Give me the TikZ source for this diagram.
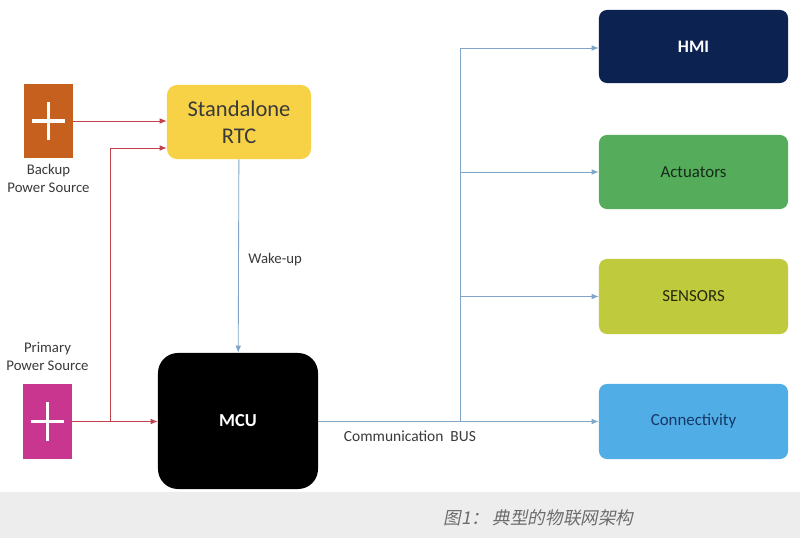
\documentclass[tikz,border=0pt]{standalone}
\usepackage{fontspec}
\setmainfont{Carlito}
\newfontfamily\cjkfont[FakeSlant=0.2]{Noto Sans CJK SC}
\usepackage{tikz}
\usetikzlibrary{arrows.meta,positioning}
\definecolor{backupclr}{HTML}{C5601E}
\definecolor{primaryclr}{HTML}{C8368F}
\definecolor{rtcclr}{HTML}{F8D246}
\definecolor{hmiclr}{HTML}{0C2352}
\definecolor{actclr}{HTML}{55AD5C}
\definecolor{senclr}{HTML}{BFCB3C}
\definecolor{conclr}{HTML}{50ADE6}
\definecolor{powerwire}{HTML}{C3414B}
\definecolor{buswire}{HTML}{7FA5C9}
\definecolor{labelclr}{HTML}{3A3A3A}

\begin{document}
\begin{tikzpicture}[x=0.025cm, y=-0.025cm,
	source/.style={rectangle, inner sep=0, minimum width=1.2cm, minimum height=1.85cm,
		path picture={\draw[white, line width=2.2pt]
			([xshift=-0.42cm]path picture bounding box.center) -- ([xshift=0.42cm]path picture bounding box.center)
			([yshift=-0.48cm]path picture bounding box.center) -- ([yshift=0.48cm]path picture bounding box.center);}},
	block/.style={rectangle, rounded corners=0.2cm, inner sep=0, minimum width=4.725cm, minimum height=1.85cm, font=\fontsize{12}{14}\selectfont},
	note/.style={align=center, text=labelclr, font=\fontsize{10.5}{12.8}\selectfont},
	power/.style={draw=powerwire, line width=0.6pt, -{Latex[length=5pt, width=4pt]}},
	bus/.style={draw=buswire, line width=0.6pt, -{Latex[length=5pt, width=4pt]}}]
	\useasboundingbox (0, 0) rectangle (800, 538);
	\fill[white] (0, 0) rectangle (800, 492);
	\fill[gray!14] (0, 492) rectangle (800, 538);
	% Paths, nodes and wires:
	\node[source, fill=backupclr] (backup) at (48.5, 121) {};
	\node[note, below=0.02cm of backup] (backuplbl) {Backup\\Power Source};
	\node[source, fill=primaryclr, minimum height=1.875cm] (primary) at (47.5, 421.5) {};
	\node[note, above=0.2cm of primary] (primarylbl) {Primary\\Power Source};
	\node[rectangle, rounded corners=0.25cm, fill=rtcclr, minimum width=3.6cm, minimum height=1.85cm, align=center, text=labelclr, font=\fontsize{16}{19.5}\selectfont] (rtc) at (239, 122) {Standalone\\RTC};
	\node[rectangle, rounded corners=0.5cm, fill=black, minimum width=4cm, minimum height=3.4cm, text=white, font=\fontsize{13}{15}\selectfont\bfseries] (mcu) at (238, 421) {MCU};
	\node[block, fill=hmiclr, minimum height=1.825cm, text=white, font=\fontsize{12.5}{15}\selectfont\bfseries] (hmi) at (693.5, 46.5) {HMI};
	\node[block, fill=actclr, text=black!75!actclr] (act) at (693.5, 172) {Actuators};
	\node[block, fill=senclr, minimum height=1.875cm, text=black!80!senclr] (sen) at (693.5, 296.5) {SENSORS};
	\node[block, fill=conclr, minimum height=1.875cm, text=hmiclr!85!conclr] (con) at (693.5, 421.5) {Connectivity};
	\coordinate (pjoin) at (110, 421.5);
	\coordinate (bjoin) at (460, 421.5);
	\draw[power] (backup) -- (rtc.west |- backup);
	\draw[power] (primary) -- (mcu.west |- primary);
	\draw[power] (pjoin) |- (rtc.west |- 0, 148);
	\draw[bus] (rtc) -- node[note, right=0.12cm, pos=0.52] (wake) {Wake-up} (mcu);
	\draw[bus] (mcu.east |- con) -- (con);
	\draw[buswire, line width=0.6pt] (bjoin) -- (bjoin |- 0, 48);
	\draw[bus] (bjoin |- 0, 48) -- (hmi.west |- 0, 48);
	\draw[bus] (bjoin |- act) -- (act);
	\draw[bus] (bjoin |- sen) -- (sen);
	\node[note, font=\fontsize{11}{13}\selectfont, anchor=north west] (buslbl) at (339, 426) {Communication\ \ BUS};
	\node[text=gray!85!black, font=\cjkfont\fontsize{12.5}{15}\selectfont, anchor=west] (caption) at (439, 518) {图1：\ 典型的物联网架构};
\end{tikzpicture}
\end{document}
